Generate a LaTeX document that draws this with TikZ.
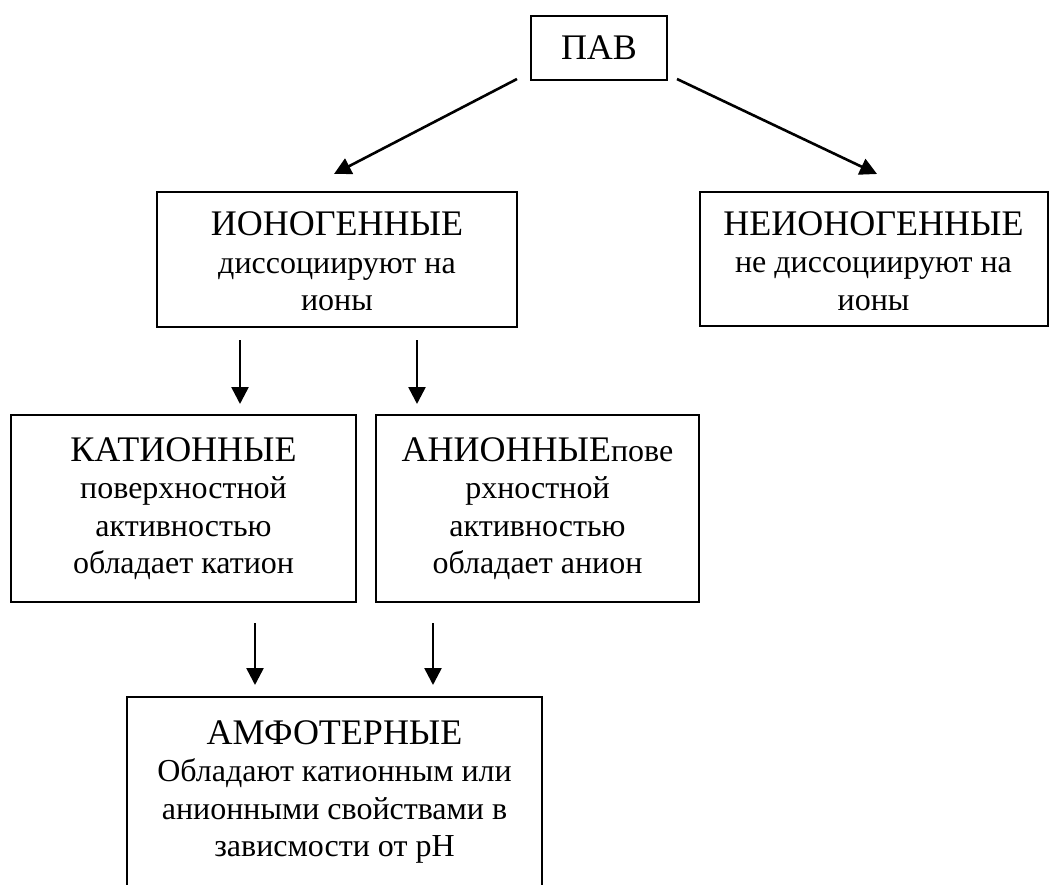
\documentclass[tikz,border=0pt]{standalone}
\usepackage{fontspec}
\setmainfont{Liberation Serif}
\usetikzlibrary{arrows.meta}
\newcommand{\hdtxt}[1]{{\fontsize{36}{37.5}\selectfont #1}}
\begin{document}
\begin{tikzpicture}[x=1pt,y=1pt,
  box/.style={draw,line width=2pt,inner sep=0pt,outer sep=0pt,align=center,
    font=\fontsize{32}{37.5}\selectfont},
  arr/.style={line width=2.6pt,-{Triangle[length=17pt,width=17pt]}}]
\useasboundingbox (0,0) rectangle (1049,-885);
\fill[white] (0,0) rectangle (1049,-885);
\clip (0,0) rectangle (1049,-885);

\node[box,minimum width=136pt,minimum height=64pt] (pav) at (599,-48) {\hdtxt{ПАВ}};
\node[box,minimum width=360pt,minimum height=135pt] (ion) at (337,-259.5)
  {\hdtxt{\rule{0pt}{28pt}ИОНОГЕННЫЕ}\\диссоциируют на\\ионы};
\node[box,minimum width=348pt,minimum height=134pt] (neion) at (873.5,-259)
  {\hdtxt{\rule{0pt}{28pt}НЕИОНОГЕННЫЕ}\\не диссоциируют на\\ионы};
\node[box,minimum width=345pt,minimum height=187pt] (kat) at (183.5,-508.5)
  {\hdtxt{КАТИОННЫЕ}\\поверхностной\\активностью\\обладает катион};
\node[box,minimum width=323pt,minimum height=187pt] (anion) at (537.5,-508.5)
  {\hdtxt{АНИОННЫЕ}пове\\рхностной\\активностью\\обладает анион};
\node[box,minimum width=415pt,minimum height=190pt] (amph) at (334.5,-792)
  {\hdtxt{АМФОТЕРНЫЕ}\\Обладают катионным или\\анионными свойствами в\\зависмости от pH};

\draw[arr] ([xshift=-14pt,yshift=1pt]pav.south west) -- ([xshift=-3pt,yshift=18pt]ion.north);
\draw[arr] ([xshift=10pt,yshift=1pt]pav.south east) -- ([xshift=3.5pt,yshift=18pt]neion.north);
\draw[arr] ([xshift=83pt,yshift=-13pt]ion.south west) -- ([xshift=229pt,yshift=11pt]kat.north west);
\draw[arr] ([xshift=260pt,yshift=-13pt]ion.south west) -- ([xshift=41pt,yshift=11pt]anion.north west);
\draw[arr] ([xshift=244pt,yshift=-21pt]kat.south west) -- ([xshift=128pt,yshift=12pt]amph.north west);
\draw[arr] ([xshift=57pt,yshift=-21pt]anion.south west) -- ([xshift=306pt,yshift=12pt]amph.north west);
\end{tikzpicture}
\end{document}
